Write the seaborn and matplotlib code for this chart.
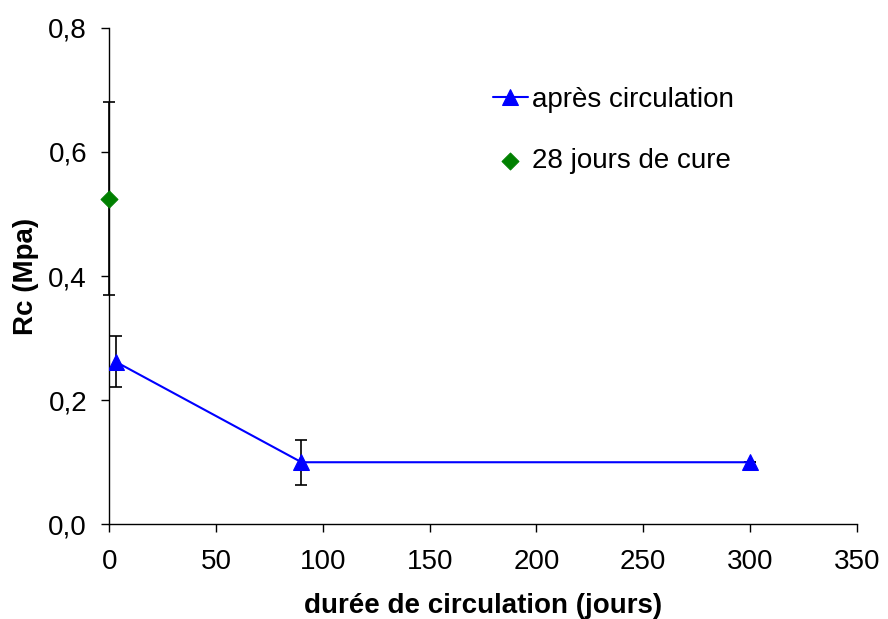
import matplotlib
matplotlib.use('Agg')
import matplotlib.pyplot as plt
import seaborn as sns
import pandas as pd
from matplotlib.ticker import FuncFormatter

# data
jours = [3, 90, 300]
rc_apres = [0.262, 0.100, 0.100]
err_apres = [0.041, 0.036, 0.0]

jours_cure = [0]
rc_cure = [0.525]
err_cure = [0.155]

sns.set_style('white')
plt.rcParams['font.family'] = ['Liberation Sans', 'DejaVu Sans']
plt.rcParams['text.color'] = 'black'
plt.rcParams['axes.labelcolor'] = 'black'

fig, ax = plt.subplots(figsize=(8.88, 6.19), dpi=100)
fig.subplots_adjust(left=0.123, right=0.965, top=0.955, bottom=0.153)

df = pd.DataFrame({'jours': jours, 'rc': rc_apres})
ax.errorbar(jours, rc_apres, yerr=err_apres, fmt='none', ecolor='black',
            elinewidth=1.2, capsize=4, capthick=1.2, zorder=2)
eb = ax.errorbar(jours_cure, rc_cure, yerr=err_cure, fmt='none', ecolor='black',
                 elinewidth=1.2, capsize=4, capthick=1.2, zorder=2)
for art in eb.lines[1]:
    art.set_clip_on(False)
sns.lineplot(data=df, x='jours', y='rc', ax=ax, color='blue', marker='^',
             markersize=12, markeredgecolor='blue', linewidth=1.5,
             label='après circulation', zorder=3)
sns.scatterplot(x=jours_cure, y=rc_cure, ax=ax, color='green', marker='D',
                s=75, edgecolor='green', label='28 jours de cure', zorder=4)
for c in ax.collections:
    c.set_clip_on(False)

ax.set_xlim(0, 350)
ax.set_ylim(0, 0.8)
ax.set_xticks(range(0, 351, 50))
ax.set_yticks([0, 0.2, 0.4, 0.6, 0.8])
ax.yaxis.set_major_formatter(FuncFormatter(lambda v, p: f'{v:.1f}'.replace('.', ',')))
ax.tick_params(axis='both', direction='out', length=6, width=1, colors='black',
               labelsize=20, bottom=True, left=True)
ax.tick_params(axis='x', pad=12)
ax.tick_params(axis='y', pad=10)
for s in ['top', 'right']:
    ax.spines[s].set_visible(False)
for s in ['left', 'bottom']:
    ax.spines[s].set_color('black')
    ax.spines[s].set_linewidth(1)
    ax.spines[s].set_zorder(1)

ax.set_xlabel('durée de circulation (jours)', fontsize=20, fontweight='bold', labelpad=13)
ax.set_ylabel('Rc (Mpa)', fontsize=20, fontweight='bold', labelpad=7)

ax.legend(loc='upper left', bbox_to_anchor=(0.48, 0.932), frameon=False,
          fontsize=20, handlelength=1.25, handletextpad=0.15, labelspacing=1.27)

fig.savefig('out.png', dpi=100)
